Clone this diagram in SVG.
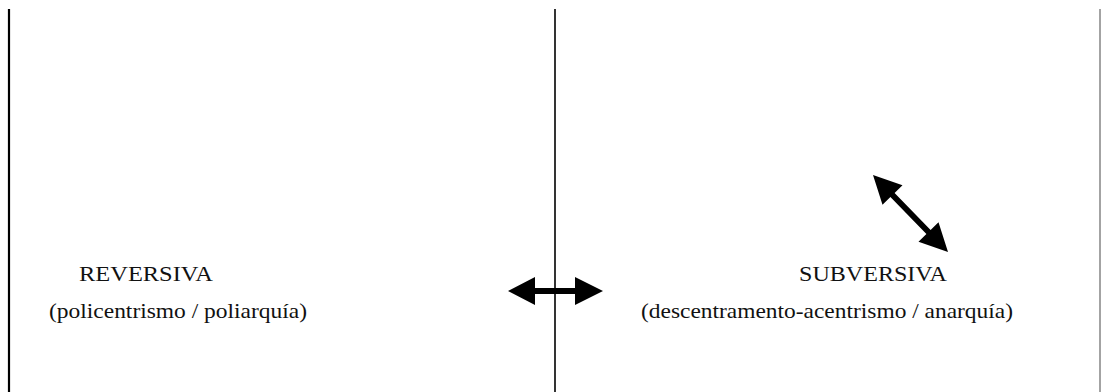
<svg xmlns="http://www.w3.org/2000/svg" width="1101" height="392" viewBox="0 0 1101 392">
  <style>
    .t { font-family: "Liberation Serif", "Times New Roman", serif; font-size: 21px; fill: #111; }
    .frame { stroke: #000; fill: none; }
    .arrow { fill: #000; stroke: none; }
  </style>
  <rect width="1101" height="392" fill="#fff"/>
  <g id="frame">
    <line class="frame" x1="9" y1="9" x2="9" y2="392" stroke-width="2.2"/>
    <line class="frame" x1="555" y1="9" x2="555" y2="392" stroke-width="1.6"/>
    <line x1="1100" y1="9" x2="1100" y2="392" stroke="#666" stroke-width="1.2"/>
  </g>
  <g id="reversiva">
    <text class="t" x="79" y="281" textLength="134" lengthAdjust="spacingAndGlyphs">REVERSIVA</text>
    <text class="t" x="49" y="318" textLength="258" lengthAdjust="spacingAndGlyphs">(policentrismo / poliarquía)</text>
  </g>
  <g id="subversiva">
    <text class="t" x="799" y="281" textLength="148" lengthAdjust="spacingAndGlyphs">SUBVERSIVA</text>
    <text class="t" x="641" y="318" textLength="372" lengthAdjust="spacingAndGlyphs">(descentramento-acentrismo / anarquía)</text>
  </g>
  <g id="connectors">
    <polygon class="arrow" points="508,291 535,277 535,288 575,288 575,277 603,291 575,305 575,294 535,294 535,305"/>
    <polygon class="arrow" points="873,175 902.5,185.2 894.6,192.9 930.6,229.9 938.5,222.2 948,252 918.5,241.8 926.4,234.1 890.4,197.1 882.5,204.8"/>
  </g>
</svg>
